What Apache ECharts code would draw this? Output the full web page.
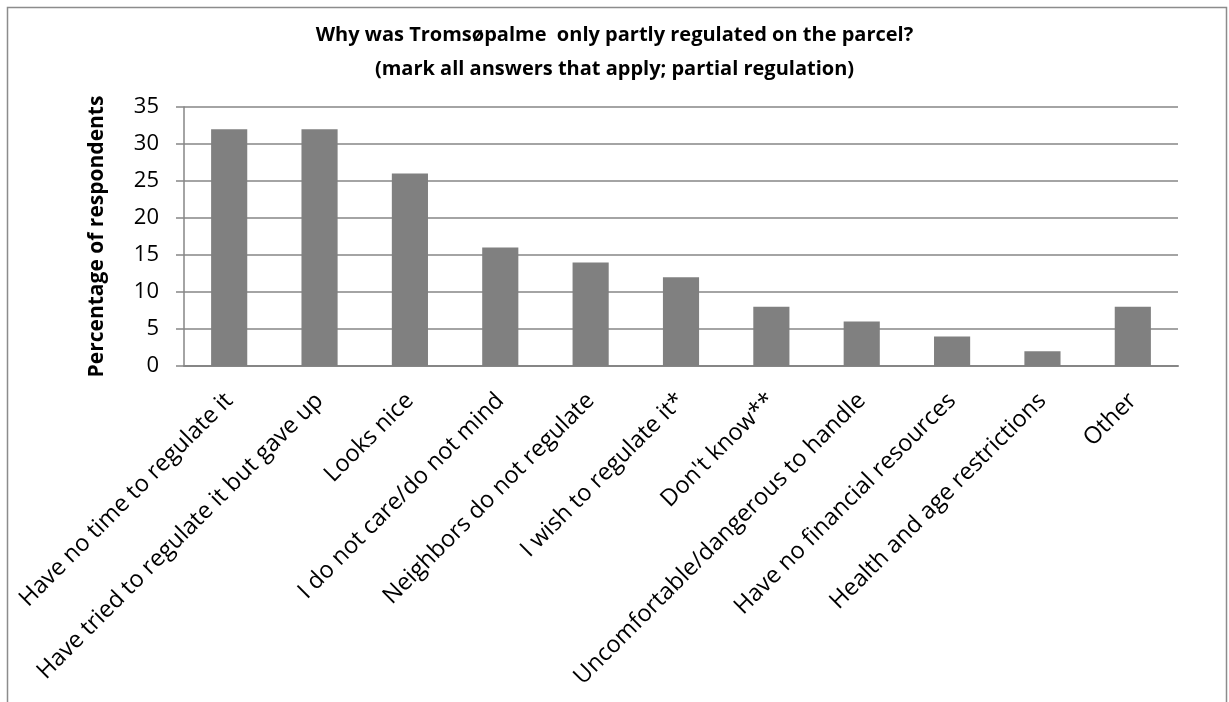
<!DOCTYPE html>
<html>
<head>
<meta charset="utf-8">
<script src="https://cdn.jsdelivr.net/npm/echarts@6/dist/echarts.min.js"></script>
<style>
html,body{margin:0;padding:0;background:#fff;}
#chart{width:1229px;height:702px;}
</style>
</head>
<body>
<div id="chart"></div>
<script>
const categories = [
  "Have no time to regulate it",
  "Have tried to regulate it but gave up",
  "Looks nice",
  "I do not care/do not mind",
  "Neighbors do not regulate",
  "I wish to regulate it*",
  "Don't know**",
  "Uncomfortable/dangerous to handle",
  "Have no financial resources",
  "Health and age restrictions",
  "Other"
];
const values = [32, 32, 26, 16, 14, 12, 8, 6, 4, 2, 8];
const titleLines = [
  "Why was Tromsøpalme  only partly regulated on the parcel?",
  "(mark all answers that apply; partial regulation)"
];
const yAxisName = "Percentage of respondents";

const FONT = "'Open Sans', 'Liberation Sans', sans-serif";
const chart = echarts.init(document.getElementById('chart'), null, {renderer: 'canvas'});
chart.setOption({
  animation: false,
  backgroundColor: '#fff',
  textStyle: {fontFamily: FONT},
  title: {
    text: titleLines.join('\n'),
    left: 'center',
    top: 13,
    textStyle: {fontFamily: FONT, fontWeight: 'bold', fontSize: 20, lineHeight: 34, color: '#000'}
  },
  graphic: [{
    type: 'rect',
    shape: {x: 7.5, y: 7.5, width: 1219, height: 720},
    style: {fill: 'none', stroke: '#8c8c8c', lineWidth: 1.5},
    silent: true
  }],
  grid: {left: 184, right: 51, top: 107, bottom: 336, containLabel: false},
  xAxis: {
    type: 'category',
    data: categories,
    axisLine: {show: true, lineStyle: {color: '#868686', width: 2}},
    axisTick: {show: false},
    axisLabel: {
      interval: 0,
      rotate: 45,
      margin: 31,
      fontSize: 23.5,
      fontFamily: FONT,
      color: '#000'
    }
  },
  yAxis: {
    type: 'value',
    min: 0,
    max: 35,
    interval: 5,
    name: yAxisName,
    nameLocation: 'middle',
    nameGap: 76,
    nameTextStyle: {fontFamily: FONT, fontWeight: 'bold', fontSize: 21, color: '#000'},
    axisLine: {show: true, lineStyle: {color: '#868686', width: 1.5}},
    axisTick: {show: true, length: 8, lineStyle: {color: '#868686', width: 1.5}},
    splitLine: {show: true, lineStyle: {color: '#868686', width: 1.5}},
    axisLabel: {fontSize: 22, fontFamily: FONT, color: '#000', margin: 25}
  },
  series: [{
    type: 'bar',
    data: values,
    barWidth: '40%',
    itemStyle: {color: '#808080'}
  }]
});
</script>
</body>
</html>
